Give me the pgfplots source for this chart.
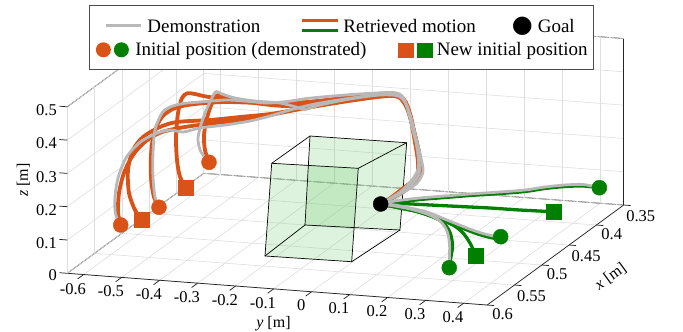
\documentclass[border=0pt]{standalone}
\usepackage{fontspec}
\setmainfont{Liberation Serif}
\newfontfamily\dejavu{DejaVu Sans}
\usepackage{pgfplots}
\pgfplotsset{compat=1.18}
\definecolor{morange}{RGB}{217,83,25}
\definecolor{mgreen}{RGB}{0,128,0}
\definecolor{mgray}{RGB}{184,184,184}
\definecolor{cubefill}{RGB}{100,200,100}
\begin{document}
\begin{tikzpicture}
\begin{axis}[
  x={(-546pt,-400pt)}, y={(380pt,-28.7pt)}, z={(0pt,333pt)},
  xmin=0.35,xmax=0.6,ymin=-0.643,ymax=0.462,zmin=0,zmax=0.5,
  xtick={0.35,0.4,0.45,0.5,0.55,0.6},
  ytick={-0.6,-0.5,-0.4,-0.3,-0.2,-0.1,0,0.1,0.2,0.3,0.4},
  ztick={0,0.1,0.2,0.3,0.4,0.5},
  grid=major,
  major grid style={draw=black!13,line width=0.6pt},
  axis line style={draw=black!85,line width=0.75pt},
  tick style={draw=none},
  tick align=outside, major tick length=7pt,
  clip=false, unbounded coords=jump,
  ticklabel style={font=\fontsize{16.5}{18}\selectfont},
  xticklabel style={inner sep=1pt},
  /pgf/number format/assume math mode=true,
  /pgf/number format/fixed,
  /pgf/number format/precision=2,
  legend columns=1, legend cell align=left,
  legend style={at={(axis cs:0.6,-0.5859,0.8106)}, anchor=north west,
    draw=black!70, line width=0.8pt, fill=white, inner xsep=6pt, inner ysep=12pt,
    row sep=8pt, column sep=6pt, font=\fontsize{19}{22}\selectfont, nodes={inner sep=0pt}},
]
% tick marks on the labelled edges
\addplot3[forget plot, black!85, line width=0.75pt] coordinates {
 (0.6,-0.6,0) (0.611,-0.6,0) (nan,nan,nan) (0.6,-0.5,0) (0.611,-0.5,0) (nan,nan,nan)
 (0.6,-0.4,0) (0.611,-0.4,0) (nan,nan,nan) (0.6,-0.3,0) (0.611,-0.3,0) (nan,nan,nan)
 (0.6,-0.2,0) (0.611,-0.2,0) (nan,nan,nan) (0.6,-0.1,0) (0.611,-0.1,0) (nan,nan,nan)
 (0.6,0,0) (0.611,0,0) (nan,nan,nan) (0.6,0.1,0) (0.611,0.1,0) (nan,nan,nan)
 (0.6,0.2,0) (0.611,0.2,0) (nan,nan,nan) (0.6,0.3,0) (0.611,0.3,0) (nan,nan,nan)
 (0.6,0.4,0) (0.611,0.4,0)};
\addplot3[forget plot, black!85, line width=0.75pt] coordinates {
 (0.35,0.462,0) (0.35,0.4804,0) (nan,nan,nan) (0.4,0.462,0) (0.4,0.4804,0) (nan,nan,nan)
 (0.45,0.462,0) (0.45,0.4804,0) (nan,nan,nan) (0.5,0.462,0) (0.5,0.4804,0) (nan,nan,nan)
 (0.55,0.462,0) (0.55,0.4804,0) (nan,nan,nan) (0.6,0.462,0) (0.6,0.4804,0)};
\addplot3[forget plot, black!85, line width=0.75pt] coordinates {
 (0.6,-0.643,0) (0.6,-0.664,0) (nan,nan,nan) (0.6,-0.643,0.1) (0.6,-0.664,0.1) (nan,nan,nan)
 (0.6,-0.643,0.2) (0.6,-0.664,0.2) (nan,nan,nan) (0.6,-0.643,0.3) (0.6,-0.664,0.3) (nan,nan,nan)
 (0.6,-0.643,0.4) (0.6,-0.664,0.4) (nan,nan,nan) (0.6,-0.643,0.5) (0.6,-0.664,0.5)};
% cube
\addplot3[forget plot, fill=cubefill, fill opacity=0.22, draw=none] coordinates {(0.52,-0.2200,0.2707) (0.52,0.0078,0.2753) (0.52,-0.0095,-0.0067) (0.52,-0.2377,-0.0092)};
\addplot3[forget plot, fill=cubefill, fill opacity=0.22, draw=none] coordinates {(0.45,-0.2198,0.2686) (0.45,0.0346,0.2704) (0.45,0.0170,0.0067) (0.45,-0.2330,0.0002)};
\addplot3[forget plot, black, line width=0.7pt] coordinates {(0.52,-0.2200,0.2707) (0.52,0.0078,0.2753) (0.52,-0.0095,-0.0067) (0.52,-0.2377,-0.0092) (0.52,-0.2200,0.2707)};
\addplot3[forget plot, black, line width=0.7pt] coordinates {(0.45,-0.2198,0.2686) (0.45,0.0346,0.2704) (0.45,0.0170,0.0067) (0.45,-0.2330,0.0002) (0.45,-0.2198,0.2686)};
\addplot3[forget plot, black, line width=0.7pt] coordinates {(0.52,-0.2200,0.2707) (0.45,-0.2198,0.2686)};
\addplot3[forget plot, black, line width=0.7pt] coordinates {(0.52,0.0078,0.2753) (0.45,0.0346,0.2704)};
\addplot3[forget plot, black, line width=0.7pt] coordinates {(0.52,-0.0095,-0.0067) (0.45,0.0170,0.0067)};
\addplot3[forget plot, black, line width=0.7pt] coordinates {(0.52,-0.2377,-0.0092) (0.45,-0.2330,0.0002)};
% retrieved (orange)
\pgfplotsset{oline/.style={forget plot, morange, line width=3.8pt, smooth, line join=round, line cap=round},
  gline/.style={forget plot, mgreen, line width=3.3pt, smooth, line join=round, line cap=round},
  dline/.style={forget plot, mgray, line width=2.8pt, smooth, line join=round, line cap=round}}
\addplot3[oline] coordinates {(0.5115,-0.6296,0.0399) (0.5115,-0.6367,0.0783) (0.5115,-0.6341,0.1356) (0.5115,-0.6210,0.1968) (0.5115,-0.5973,0.2529) (0.5115,-0.5630,0.2979) (0.5115,-0.5209,0.3285) (0.5115,-0.4604,0.3488) (0.5115,-0.3815,0.3676) (0.5115,-0.2894,0.3875) (0.5115,-0.1973,0.4165) (0.5115,-0.1052,0.4455) (0.5115,-0.0131,0.4684) (0.5115,0.0659,0.4872) (0.5115,0.1027,0.4874) (0.5115,0.1238,0.4562) (0.5115,0.1396,0.4005) (0.5115,0.1527,0.3386) (0.5115,0.1580,0.2880) (0.5115,0.1501,0.2452) (0.5115,0.1212,0.2097) (0.5115,0.0843,0.1825) (0.5,0.038,0.1467)};
\addplot3[oline] coordinates {(0.4649,-0.5958,0.0400) (0.4649,-0.6090,0.0698) (0.4649,-0.6168,0.1262) (0.4649,-0.6168,0.1952) (0.4649,-0.6090,0.2620) (0.4649,-0.5879,0.3118) (0.4649,-0.5537,0.3418) (0.4649,-0.5011,0.3584) (0.4649,-0.4221,0.3712) (0.4649,-0.3300,0.3761) (0.4649,-0.2511,0.3829) (0.4649,-0.1721,0.3957) (0.4649,-0.0932,0.4145) (0.4649,-0.0142,0.4304) (0.4649,0.0332,0.4314) (0.4649,0.0542,0.4092) (0.4649,0.0674,0.3593) (0.4649,0.0779,0.2941) (0.4649,0.0858,0.2348) (0.4649,0.0832,0.1895) (0.4649,0.0542,0.1510) (0.4649,0.0174,0.1208) (0.5,0.038,0.1467)};
\addplot3[oline] coordinates {(0.3543,-0.6231,0.0399) (0.3543,-0.6337,0.0759) (0.3543,-0.6363,0.1208) (0.3543,-0.6284,0.1725) (0.3543,-0.6152,0.2187) (0.3543,-0.5994,0.2441) (0.3543,-0.5679,0.2378) (0.3543,-0.5021,0.2284) (0.3543,-0.4231,0.2262) (0.3543,-0.3442,0.2390) (0.3543,-0.2652,0.2578) (0.3543,-0.1863,0.2767) (0.3543,-0.1310,0.2844) (0.3543,-0.1073,0.2684) (0.3543,-0.0916,0.2218) (0.3543,-0.0810,0.1596) (0.3543,-0.0731,0.1002) (0.3543,-0.0731,0.0522) (0.3543,-0.0968,0.0141) (0.3543,-0.1363,-0.0223) (0.5,0.038,0.1467)};
\addplot3[oline] coordinates {(0.495,-0.5981,0.0399) (0.495,-0.6157,0.0663) (0.495,-0.6315,0.1160) (0.495,-0.6341,0.1848) (0.495,-0.6210,0.2460) (0.495,-0.5947,0.2873) (0.495,-0.5499,0.3212) (0.495,-0.5052,0.3401) (0.495,-0.4183,0.3536) (0.495,-0.3394,0.3694) (0.495,-0.2604,0.3852) (0.495,-0.1815,0.4071) (0.495,-0.1026,0.4289) (0.495,-0.0236,0.4507) (0.495,0.0501,0.4660) (0.495,0.0817,0.4628) (0.495,0.1027,0.4285) (0.495,0.1185,0.3638) (0.495,0.1317,0.3049) (0.495,0.1369,0.2573) (0.495,0.1264,0.2204) (0.495,0.0922,0.1844) (0.495,0.0501,0.1537) (0.5,0.038,0.1467)};
\addplot3[oline] coordinates {(0.4158,-0.5953,0.0399) (0.4158,-0.6111,0.0716) (0.4158,-0.6190,0.1211) (0.4158,-0.6216,0.1899) (0.4158,-0.6163,0.2624) (0.4158,-0.6058,0.3084) (0.4158,-0.5919,0.3237) (0.4158,-0.5716,0.3233) (0.4158,-0.5400,0.3180) (0.4158,-0.4716,0.3139) (0.4158,-0.3821,0.3117) (0.4158,-0.2953,0.3210) (0.4158,-0.2084,0.3387) (0.4158,-0.1190,0.3593) (0.4158,-0.0506,0.3703) (0.4158,-0.0242,0.3576) (0.4158,-0.0058,0.3039) (0.4158,0.0073,0.2351) (0.4158,0.0160,0.1758) (0.4158,0.0118,0.1253) (0.4158,-0.0242,0.0873) (0.4158,-0.0584,0.0544) (0.5,0.038,0.1467)};
% retrieved (green)
\addplot3[gline] coordinates {(0.5,0.038,0.1467) (0.4899,0.0611,0.1411) (0.4722,0.1015,0.1323) (0.4544,0.1418,0.1204) (0.4367,0.1821,0.1086) (0.4155,0.2306,0.0933) (0.3978,0.2709,0.0815) (0.3836,0.3032,0.0763) (0.3694,0.3354,0.0680) (0.3567,0.3645,0.0568) (0.3451,0.3910,0.0400)};
\addplot3[gline] coordinates {(0.5,0.038,0.1467) (0.4896,0.0739,0.1388) (0.4735,0.1297,0.1198) (0.4574,0.1855,0.1007) (0.4413,0.2413,0.0817) (0.4252,0.2971,0.0611) (0.4073,0.3591,0.0399)};
\addplot3[gline] coordinates {(0.5,0.038,0.1467) (0.4968,0.0711,0.1367) (0.4934,0.1057,0.1266) (0.4896,0.1449,0.1134) (0.4851,0.1911,0.0879) (0.4817,0.2257,0.0688) (0.4781,0.2626,0.0496) (0.4748,0.2974,0.0367) (0.4730,0.3150,0.0399)};
\addplot3[gline] coordinates {(0.5,0.038,0.1467) (0.503,0.08,0.1479) (0.5062,0.1241,0.1465) (0.5111,0.1916,0.1342) (0.5154,0.2504,0.1204) (0.5175,0.2798,0.1014) (0.519,0.3003,0.0750) (0.5203,0.318,0.04)};
\addplot3[gline] coordinates {(0.5,0.038,0.1467) (0.5109,0.0993,0.1543) (0.5225,0.1555,0.1641) (0.5351,0.2183,0.1697) (0.545,0.2668,0.1647) (0.5503,0.2928,0.1433) (0.5521,0.302,0.1072) (0.5521,0.297,0.0682) (0.5521,0.2934,0.04)};
% demonstrations (gray)
\addplot3[dline] coordinates {(0.5115,-0.6296,0.0399) (0.5115,-0.6433,0.0717) (0.5115,-0.6446,0.1227) (0.5115,-0.6367,0.1804) (0.5115,-0.6157,0.2423) (0.5115,-0.5815,0.2903) (0.5115,-0.5394,0.3209) (0.5115,-0.4999,0.3364) (0.5115,-0.4657,0.3333) (0.5115,-0.4209,0.3492) (0.5115,-0.3552,0.3638) (0.5115,-0.2894,0.3815) (0.5115,-0.2367,0.4011) (0.5115,-0.1841,0.4236) (0.5115,-0.1183,0.4473) (0.5115,-0.0394,0.4691) (0.5115,0.0396,0.4880) (0.5115,0.0922,0.4955) (0.5115,0.1159,0.4795) (0.5115,0.1317,0.4358) (0.5115,0.1475,0.3681) (0.5115,0.1606,0.3092) (0.5115,0.1659,0.2676) (0.5115,0.1475,0.2300) (0.5115,0.1054,0.1963) (0.5,0.038,0.1467)};
\addplot3[dline] coordinates {(0.4649,-0.5958,0.0400) (0.4649,-0.6063,0.0700) (0.4649,-0.6116,0.1296) (0.4649,-0.6116,0.2017) (0.4649,-0.6063,0.2712) (0.4649,-0.5879,0.3238) (0.4649,-0.5668,0.3437) (0.4649,-0.5326,0.3571) (0.4649,-0.4879,0.3655) (0.4649,-0.4168,0.3776) (0.4649,-0.3563,0.3783) (0.4649,-0.3116,0.3777) (0.4649,-0.2589,0.3867) (0.4649,-0.2063,0.4003) (0.4649,-0.1379,0.4137) (0.4649,-0.0484,0.4289) (0.4649,0.0200,0.4372) (0.4649,0.0437,0.4293) (0.4649,0.0568,0.3974) (0.4649,0.0700,0.3385) (0.4649,0.0832,0.2796) (0.4649,0.0871,0.2198) (0.4649,0.0700,0.1793) (0.4649,0.0384,0.1406) (0.5,0.038,0.1467)};
\addplot3[dline] coordinates {(0.3543,-0.6231,0.0399) (0.3543,-0.6442,0.0690) (0.3543,-0.6521,0.1044) (0.3543,-0.6468,0.1409) (0.3543,-0.6337,0.1871) (0.3543,-0.6152,0.2337) (0.3543,-0.6047,0.2541) (0.3543,-0.5889,0.2480) (0.3543,-0.5547,0.2389) (0.3543,-0.5021,0.2344) (0.3543,-0.4363,0.2341) (0.3543,-0.3942,0.2257) (0.3543,-0.3705,0.2202) (0.3543,-0.3310,0.2372) (0.3543,-0.2521,0.2620) (0.3543,-0.1731,0.2808) (0.3543,-0.1258,0.2819) (0.3543,-0.1047,0.2597) (0.3543,-0.0889,0.2070) (0.3543,-0.0784,0.1478) (0.3543,-0.0705,0.0944) (0.3543,-0.0705,0.0524) (0.3543,-0.0916,0.0176) (0.3543,-0.1284,-0.0156) (0.5,0.038,0.1467)};
\addplot3[dline] coordinates {(0.5,0.038,0.1467) (0.4899,0.0611,0.1456) (0.4722,0.1015,0.1368) (0.4544,0.1418,0.1249) (0.4367,0.1821,0.1131) (0.4155,0.2306,0.0978) (0.3978,0.2709,0.0860) (0.3836,0.3032,0.0808) (0.3694,0.3354,0.0725) (0.3567,0.3645,0.0613) (0.3451,0.3910,0.0400)};
\addplot3[dline] coordinates {(0.5,0.038,0.1467) (0.4968,0.0711,0.1427) (0.4934,0.1057,0.1326) (0.4896,0.1449,0.1194) (0.4851,0.1911,0.0939) (0.4817,0.2257,0.0748) (0.4781,0.2626,0.0556) (0.4748,0.2974,0.0427) (0.4730,0.3150,0.0399)};
\addplot3[dline] coordinates {(0.5,0.038,0.1467) (0.5109,0.0913,0.1583) (0.5225,0.1475,0.1681) (0.5351,0.2103,0.1737) (0.545,0.2588,0.1687) (0.5503,0.2848,0.1473) (0.5521,0.294,0.1112) (0.5521,0.294,0.0722) (0.5521,0.2934,0.04)};
% markers
\addplot3[forget plot, only marks, mark=*, mark size=7.5pt, morange] coordinates {(0.5115,-0.6296,0.0399) (0.4649,-0.5958,0.04) (0.3543,-0.6231,0.0399)};
\addplot3[forget plot, only marks, mark=square*, mark size=7.5pt, morange] coordinates {(0.495,-0.5981,0.0399) (0.4158,-0.5953,0.0399)};
\addplot3[forget plot, only marks, mark=*, mark size=7.5pt, mgreen] coordinates {(0.3451,0.391,0.04) (0.473,0.315,0.04) (0.5521,0.2934,0.04)};
\addplot3[forget plot, only marks, mark=square*, mark size=7.5pt, mgreen] coordinates {(0.4073,0.3591,0.04) (0.5203,0.318,0.04)};
\addplot3[forget plot, only marks, mark=*, mark size=7.5pt, black] coordinates {(0.5,0.038,0.1467)};
% legend
\addlegendimage{legend image code/.code={
  \path[draw=none,fill=none] (0pt,-7.5pt) rectangle (34pt,7.5pt);
  \draw[overlay,mgray,line width=3pt] (11pt,0pt) -- (46pt,0pt);}}
\addlegendentry{\hspace*{12pt}Demonstration\hspace*{41.8pt}\rlap{\color{morange}\rule[11pt]{36pt}{3pt}}{\color{mgreen}\rule[0.7pt]{36pt}{3pt}}\hspace*{5.3pt}Retrieved motion\hspace*{36pt}{\dejavu\fontsize{24}{24}\selectfont ●}\hspace*{5pt}Goal}
\addlegendimage{legend image code/.code={
  \fill[morange,draw=none] (8pt,0pt) circle (7.5pt);
  \fill[mgreen,draw=none] (26pt,0pt) circle (7.5pt);}}
\addlegendentry{Initial position (demonstrated)\hspace*{31.8pt}{\color{morange}\rule[-2pt]{15.5pt}{15pt}}\hspace*{3.5pt}{\color{mgreen}\rule[-2pt]{15.5pt}{15pt}}\hspace*{4pt}New initial position}
% labels
\node[font=\fontsize{16}{18}\selectfont] at (axis cs:0.6,-0.1004,-0.104) {\textit{y} [m]};
\node[font=\fontsize{16}{18}\selectfont, rotate=90] at (axis cs:0.6,-0.7588,0.2702) {\textit{z} [m]};
\node[font=\fontsize{16}{18}\selectfont, rotate=36, inner sep=0pt] at (axis cs:0.6,0.7870,0.1135) {\textit{x} [m]};
\coordinate (bbTL) at (axis cs:0.6,-0.8201,0.8055);
\coordinate (bbBR) at (axis cs:0.6,0.9773,-0.0366);
\end{axis}
\pgfresetboundingbox
\path (bbTL) rectangle (bbBR);
\end{tikzpicture}
\end{document}
